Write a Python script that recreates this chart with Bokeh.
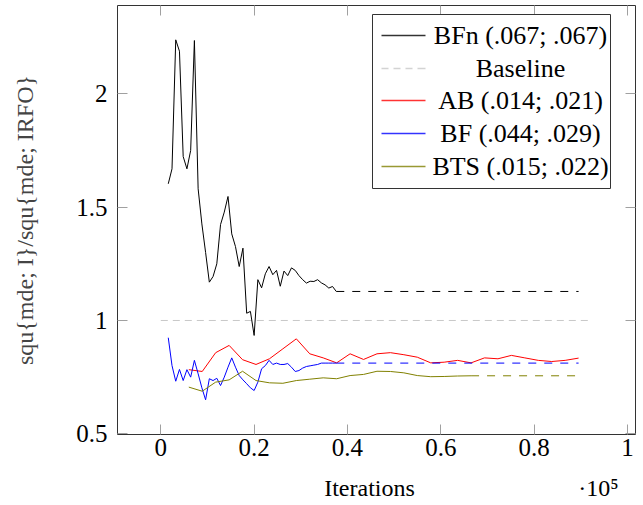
from bokeh.plotting import figure
from bokeh.models import (Range1d, FixedTicker, LinearAxis, Label, BoxAnnotation,
                          CustomJSTickFormatter)
from bokeh.embed import file_html
from bokeh.resources import INLINE

# ---------------- data ----------------
iter_fine = [1600, 2400, 3200, 4000, 4800, 5600, 6400, 7200, 8000, 8800,
             9600, 10400, 11200, 12000, 12800, 13600, 14400, 15200, 16000, 16800,
             17600, 18400, 19200, 20000, 20800, 21600, 22400, 23200, 24000, 24800,
             25600, 26400, 27200, 28000, 28800, 29600, 30400, 31200, 32000, 32800,
             33600, 34400, 35200, 36000, 36800, 37600]
bfn_vals = [1.603, 1.669, 2.238, 2.188, 1.723, 1.669, 1.750, 2.235, 1.581, 1.426,
            1.300, 1.169, 1.194, 1.250, 1.423, 1.478, 1.547, 1.382, 1.326, 1.238,
            1.319, 1.032, 1.040, 0.934, 1.180, 1.144, 1.206, 1.238, 1.202, 1.221,
            1.151, 1.218, 1.198, 1.232, 1.221, 1.198, 1.180, 1.165, 1.173, 1.172,
            1.180, 1.166, 1.157, 1.143, 1.150, 1.128]
bf_vals = [0.924, 0.801, 0.732, 0.784, 0.735, 0.783, 0.750, 0.824, 0.765, 0.703,
           0.650, 0.743, 0.735, 0.745, 0.713, 0.750, 0.794, 0.835, 0.794, 0.757,
           0.738, 0.721, 0.703, 0.691, 0.728, 0.787, 0.801, 0.824, 0.806, 0.812,
           0.806, 0.806, 0.810, 0.794, 0.775, 0.779, 0.790, 0.797, 0.800, 0.803,
           0.806, 0.812, 0.812, 0.812, 0.812, 0.812]
iter_coarse = [6000, 8880, 11760, 14640, 17520, 20400, 23280, 26160, 29040, 31920,
               34800, 37680, 40560, 43440, 46320, 49200, 52080, 54960, 57840, 60720,
               63600, 66480, 69360, 72240, 75120, 78000, 80880, 83760, 86640, 89520]
ab_vals = [0.783, 0.775, 0.858, 0.890, 0.827, 0.806, 0.831, 0.875, 0.919, 0.853,
           0.835, 0.813, 0.853, 0.828, 0.853, 0.858, 0.849, 0.838, 0.813, 0.816,
           0.824, 0.813, 0.835, 0.831, 0.846, 0.835, 0.824, 0.819, 0.824, 0.834]
bts_vals = [0.706, 0.688, 0.728, 0.738, 0.776, 0.735, 0.725, 0.723, 0.735, 0.741,
            0.747, 0.743, 0.757, 0.762, 0.776, 0.775, 0.769, 0.757, 0.752, 0.753,
            0.755, 0.756]
last_iter = 89520
baseline_x = [0, 92500]
baseline_y = [1.0, 1.0]

x_ticks = [0, 20000, 40000, 60000, 80000, 100000]
x_tick_labels = ["0", "0.2", "0.4", "0.6", "0.8", "1"]
y_ticks = [0.5, 1.0, 1.5, 2.0]
y_tick_labels = ["0.5", "1", "1.5", "2"]
x_title = "Iterations"
x_scale_note = "\u00b710\u2075"
y_title = "squ{mde; I}/squ{mde; IRFO}"

legend_labels = ["BFn (.067; .067)", "Baseline", "AB (.014; .021)",
                 "BF (.044; .029)", "BTS (.015; .022)"]
colors = {"bfn": "black", "base": "#c8c8c8", "ab": "#ff0000", "bf": "#0000ff", "bts": "#808000"}

FONT = "Liberation Serif"

# ---------------- figure ----------------
p = figure(width=643, height=505, output_backend="svg", toolbar_location=None,
           x_range=Range1d(-9278, 101714), y_range=Range1d(0.497, 2.3895),
           min_border_left=117, min_border_right=8, min_border_top=5,
           min_border_bottom=71, x_axis_type=None, y_axis_type=None)
p.grid.visible = False
p.outline_line_color = "#333333"
p.outline_line_width = 1
p.background_fill_color = "white"
p.border_fill_color = "white"

def style_axis(ax, show_labels):
    ax.axis_line_color = None
    ax.major_tick_in = 10
    ax.major_tick_out = 0
    ax.minor_tick_line_color = None
    ax.major_tick_line_color = "#a0a0a0"
    ax.major_tick_line_width = 1
    ax.major_label_text_font = FONT
    ax.major_label_text_color = "black"
    if show_labels:
        ax.major_label_text_font_size = "25px"
    else:
        ax.formatter = CustomJSTickFormatter(code="return ''")
        ax.major_label_text_font_size = "1px"
        ax.major_label_standoff = 0

xb = LinearAxis(ticker=FixedTicker(ticks=x_ticks))
style_axis(xb, True)
xb.major_label_overrides = {t: l for t, l in zip(x_ticks, x_tick_labels)}
xb.major_label_standoff = 4
p.add_layout(xb, "below")

# second row under the tick labels: axis title and the x scale factor
title_pos = [44720, 93790]
xb2 = LinearAxis(ticker=FixedTicker(ticks=title_pos))
xb2.axis_line_color = None
xb2.major_tick_line_color = None
xb2.minor_tick_line_color = None
xb2.major_tick_in = 0
xb2.major_tick_out = 0
xb2.major_label_overrides = {title_pos[0]: x_title, title_pos[1]: x_scale_note}
xb2.major_label_text_font = FONT
xb2.major_label_text_font_size = "24px"
xb2.major_label_text_color = "black"
xb2.major_label_standoff = 16
p.add_layout(xb2, "below")

xt = LinearAxis(ticker=FixedTicker(ticks=x_ticks))
style_axis(xt, False)
p.add_layout(xt, "above")

yl = LinearAxis(ticker=FixedTicker(ticks=y_ticks))
style_axis(yl, True)
yl.major_label_overrides = {t: l for t, l in zip(y_ticks, y_tick_labels)}
yl.major_label_standoff = 10
yl.axis_label = y_title
yl.axis_label_text_font = FONT
yl.axis_label_text_font_style = "normal"
yl.axis_label_text_font_size = "24px"
yl.axis_label_standoff = 35
p.add_layout(yl, "left")

yr = LinearAxis(ticker=FixedTicker(ticks=y_ticks))
style_axis(yr, False)
p.add_layout(yr, "right")

# ---------------- lines ----------------
DASH = "8 8"
p.line(baseline_x, baseline_y, line_color=colors["base"], line_width=1, line_dash="7 5")

p.line(iter_fine, bfn_vals, line_color=colors["bfn"], line_width=1)
p.line([iter_fine[-1], last_iter], [bfn_vals[-1], bfn_vals[-1]],
       line_color=colors["bfn"], line_width=1, line_dash=DASH)

p.line(iter_coarse, ab_vals, line_color=colors["ab"], line_width=1)

p.line(iter_fine[:len(bf_vals)], bf_vals, line_color=colors["bf"], line_width=1)
p.line([iter_fine[len(bf_vals) - 1], last_iter], [bf_vals[-1], bf_vals[-1]],
       line_color=colors["bf"], line_width=1, line_dash=DASH)

p.line(iter_coarse[:len(bts_vals)], bts_vals, line_color=colors["bts"], line_width=1)
p.line([iter_coarse[len(bts_vals) - 1], last_iter], [bts_vals[-1], bts_vals[-1]],
       line_color=colors["bts"], line_width=1, line_dash=DASH)

# ---------------- legend (frame-relative screen units) ----------------
LEG_L, LEG_R, LEG_T, LEG_B = 255, 493, 420, 246
p.add_layout(BoxAnnotation(left=LEG_L, right=LEG_R, top=LEG_T, bottom=LEG_B,
                           left_units="screen", right_units="screen",
                           top_units="screen", bottom_units="screen",
                           fill_color="white", fill_alpha=1.0,
                           line_color="#333333", line_width=1, line_alpha=1.0))
row_y = [399, 366, 334, 301, 268]
row_colors = [colors["bfn"], colors["base"], colors["ab"], colors["bf"], colors["bts"]]
SAMPLE_L, SAMPLE_R = 264, 308
for ry, col, lab in zip(row_y, row_colors, legend_labels):
    if lab == "Baseline":
        segs = [(SAMPLE_L, SAMPLE_L + 7), (SAMPLE_L + 12, SAMPLE_L + 19),
                (SAMPLE_L + 24, SAMPLE_L + 31), (SAMPLE_L + 36, SAMPLE_R)]
    else:
        segs = [(SAMPLE_L, SAMPLE_R)]
    for a, b in segs:
        p.add_layout(BoxAnnotation(left=a, right=b, top=ry + 0.8, bottom=ry - 0.8,
                                   left_units="screen", right_units="screen",
                                   top_units="screen", bottom_units="screen",
                                   fill_color=col, fill_alpha=0.8,
                                   line_color=None, line_alpha=0.0))
    p.add_layout(Label(x=403, y=ry, x_units="screen", y_units="screen", text=lab,
                       text_font=FONT, text_font_size="26px", text_align="center",
                       text_baseline="middle", text_color="black"))

open("out.html", "w").write(file_html(p, INLINE))
